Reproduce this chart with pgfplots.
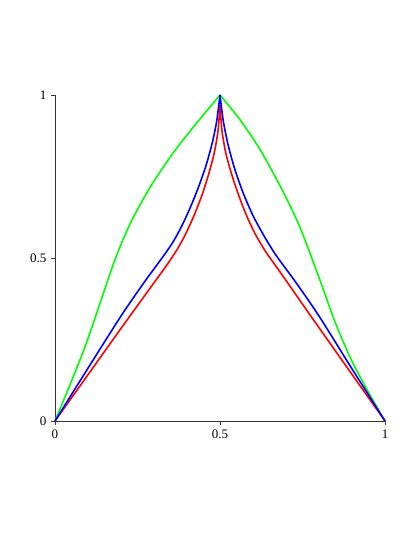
\documentclass[border=0pt]{standalone}
\usepackage{fontspec}
\setmainfont{Liberation Serif}
\usepackage{pgfplots}
\pgfplotsset{compat=1.18}

\definecolor{lgreen}{rgb}{0,1,0}
\definecolor{lblue}{rgb}{0,0,1}
\definecolor{lred}{rgb}{1,0,0}

\begin{document}
\begin{tikzpicture}
\begin{axis}[
  scale only axis,
  width=330pt, height=326pt,
  xmin=0, xmax=1, ymin=0, ymax=1,
  axis lines=left,
  axis line style={-, black!80, line width=0.8pt},
  xtick={0,0.5,1}, ytick={0,0.5,1},
  tick align=outside,
  major tick length=4pt,
  tick style={black!80, line width=0.8pt},
  /pgf/number format/assume math mode=true,
  tick label style={font=\fontsize{13}{15}\selectfont},
  xticklabel style={yshift=-1pt},
  yticklabel style={xshift=-1pt},
  clip=false,
  every axis plot/.append style={line width=1.6pt, smooth, tension=0.45},
]
\coordinate (o) at (axis cs:0,0);

% green
\addplot[lgreen] coordinates {
  (0,0) (0.09,0.225) (0.18,0.49) (0.23,0.61) (0.29,0.72)
  (0.36,0.825) (0.43,0.915) (0.5,1)
};
\addplot[lgreen] coordinates {
  (0.5,1) (0.56,0.925) (0.62,0.835) (0.68,0.725) (0.74,0.6)
  (0.80,0.44) (0.85,0.30) (0.90,0.183) (0.95,0.088) (1,0)
};

% red
\addplot[lred] coordinates {
  (0,0) (0.1,0.142) (0.2,0.284) (0.3,0.424) (0.34,0.48)
  (0.37,0.526) (0.395,0.572) (0.42,0.627) (0.445,0.692)
  (0.465,0.755) (0.482,0.82) (0.494,0.89) (0.5,0.97)
};
\addplot[lred] coordinates {
  (0.5,0.97) (0.506,0.89) (0.518,0.82) (0.535,0.758) (0.555,0.697)
  (0.578,0.636) (0.605,0.577) (0.638,0.52) (0.68,0.46)
  (0.78,0.315) (0.90,0.143) (1,0)
};

% blue
\addplot[lblue] coordinates {
  (0,0) (0.1,0.162) (0.2,0.322) (0.27,0.425) (0.33,0.508)
  (0.36,0.553) (0.385,0.60) (0.41,0.655) (0.435,0.718)
  (0.458,0.785) (0.477,0.855) (0.49,0.92) (0.5,1)
};
\addplot[lblue] coordinates {
  (0.5,1) (0.51,0.92) (0.525,0.845) (0.545,0.772) (0.57,0.70)
  (0.60,0.63) (0.635,0.565) (0.67,0.508) (0.73,0.425)
  (0.80,0.322) (0.90,0.16) (1,0)
};
\end{axis}
% page frame as in the reference
\path ([xshift=-55pt, yshift=-122pt]o) rectangle ([xshift=364pt, yshift=421pt]o);
\end{tikzpicture}
\end{document}
